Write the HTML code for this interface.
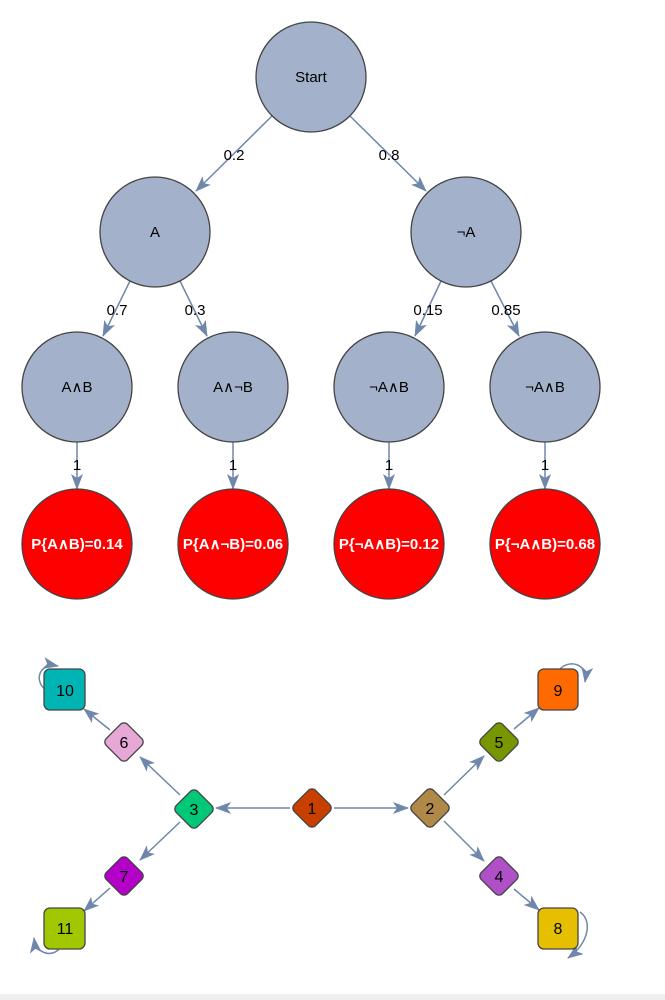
<!DOCTYPE html>
<html><head><meta charset="utf-8"><style>
html,body{margin:0;padding:0;background:#fff;}
svg{display:block;font-family:"Liberation Sans",sans-serif;}
</style></head><body>
<svg width="665" height="1000" viewBox="0 0 665 1000" xmlns="http://www.w3.org/2000/svg">
<defs>
<marker id="ar" markerWidth="16" markerHeight="12" refX="15" refY="6" orient="auto" markerUnits="userSpaceOnUse">
<path d="M0,0 L16,6 L0,12 L4,6 Z" fill="#6f87aa"/>
</marker>
</defs>
<rect x="0" y="994" width="665" height="6" fill="#efefef"/>
<g stroke="#6f87aa" stroke-width="1.5" fill="none" marker-end="url(#ar)">
<line x1="272" y1="116" x2="196" y2="191"/>
<line x1="350" y1="116" x2="426" y2="191"/>
<line x1="130" y1="281" x2="103" y2="336"/>
<line x1="180" y1="281" x2="207" y2="336"/>
<line x1="441" y1="281" x2="415" y2="336"/>
<line x1="491" y1="281" x2="519" y2="336"/>
<line x1="77" y1="442" x2="77" y2="489"/>
<line x1="233" y1="442" x2="233" y2="489"/>
<line x1="389" y1="442" x2="389" y2="489"/>
<line x1="545" y1="442" x2="545" y2="489"/>
<line x1="334" y1="808" x2="408" y2="808"/>
<line x1="290" y1="808" x2="216" y2="808"/>
<line x1="444" y1="795" x2="484" y2="756"/>
<line x1="444" y1="821" x2="484" y2="861"/>
<line x1="180" y1="795" x2="140" y2="757"/>
<line x1="180" y1="822" x2="140" y2="860"/>
<line x1="110" y1="730" x2="84" y2="709"/>
<line x1="110" y1="888" x2="84" y2="911"/>
<line x1="514" y1="729" x2="539" y2="708"/>
<line x1="514" y1="889" x2="539" y2="910"/>
<path d="M46,690 C34,682 38,662 58,666"/>
<path d="M560,669 C568,660 588,662 585,682"/>
<path d="M580,912 C592,920 590,942 568,958"/>
<path d="M60,948 C52,958 36,954 34,938"/>
</g>
<g fill="#000" font-size="15" text-anchor="middle">
<text x="234" y="160">0.2</text>
<text x="389" y="160">0.8</text>
<text x="117" y="315">0.7</text>
<text x="195" y="315">0.3</text>
<text x="428" y="315">0.15</text>
<text x="506" y="315">0.85</text>
<text x="77" y="470">1</text>
<text x="233" y="470">1</text>
<text x="389" y="470">1</text>
<text x="545" y="470">1</text>
</g>
<g fill="#a3b2ca" stroke="#444" stroke-width="1.3">
<circle cx="311" cy="77" r="55"/>
<circle cx="155" cy="232" r="55"/>
<circle cx="466" cy="232" r="55"/>
<circle cx="77" cy="387" r="55"/>
<circle cx="233" cy="387" r="55"/>
<circle cx="389" cy="387" r="55"/>
<circle cx="545" cy="387" r="55"/>
</g>
<g fill="#ff0000" stroke="#444" stroke-width="1.3">
<circle cx="77" cy="544" r="55"/>
<circle cx="233" cy="544" r="55"/>
<circle cx="389" cy="544" r="55"/>
<circle cx="545" cy="544" r="55"/>
</g>
<g fill="#000" font-size="15" text-anchor="middle">
<text x="311" y="82">Start</text>
<text x="155" y="237">A</text>
<text x="466" y="237">¬A</text>
<text x="77" y="392">A∧B</text>
<text x="233" y="392">A∧¬B</text>
<text x="389" y="392">¬A∧B</text>
<text x="545" y="392">¬A∧B</text>
</g>
<g fill="#fff" font-size="15" font-weight="bold" text-anchor="middle">
<text x="77" y="549">P{A∧B)=0.14</text>
<text x="233" y="549">P{A∧¬B)=0.06</text>
<text x="389" y="549">P{¬A∧B)=0.12</text>
<text x="545" y="549">P{¬A∧B)=0.68</text>
</g>
<g stroke="#444" stroke-width="1.3" stroke-linejoin="round">
<rect x="297" y="793" width="30" height="30" rx="5" fill="#c84000" transform="rotate(45 312 808)"/>
<rect x="415" y="793" width="30" height="30" rx="5" fill="#b08848" transform="rotate(45 430 808)"/>
<rect x="179" y="794" width="30" height="30" rx="5" fill="#00c878" transform="rotate(45 194 809)"/>
<rect x="484" y="727" width="30" height="30" rx="5" fill="#789600" transform="rotate(45 499 742)"/>
<rect x="484" y="861" width="30" height="30" rx="5" fill="#b050c8" transform="rotate(45 499 876)"/>
<rect x="109" y="727" width="30" height="30" rx="5" fill="#e6a8d6" transform="rotate(45 124 742)"/>
<rect x="109" y="861" width="30" height="30" rx="5" fill="#b400c8" transform="rotate(45 124 876)"/>
<rect x="44" y="669" width="41" height="41" rx="6" fill="#00b4b4"/>
<rect x="44" y="908" width="41" height="41" rx="6" fill="#a0c800"/>
<rect x="538" y="669" width="40" height="41" rx="6" fill="#ff6a00"/>
<rect x="538" y="908" width="40" height="41" rx="6" fill="#e6c000"/>
</g>
<g fill="#000" font-size="16" text-anchor="middle">
<text x="312" y="814">1</text>
<text x="430" y="814">2</text>
<text x="194" y="815">3</text>
<text x="499" y="748">5</text>
<text x="499" y="882">4</text>
<text x="124" y="748">6</text>
<text x="124" y="882">7</text>
<text x="65" y="696">10</text>
<text x="65" y="934">11</text>
<text x="558" y="696">9</text>
<text x="558" y="934">8</text>
</g>
</svg>
</body></html>
